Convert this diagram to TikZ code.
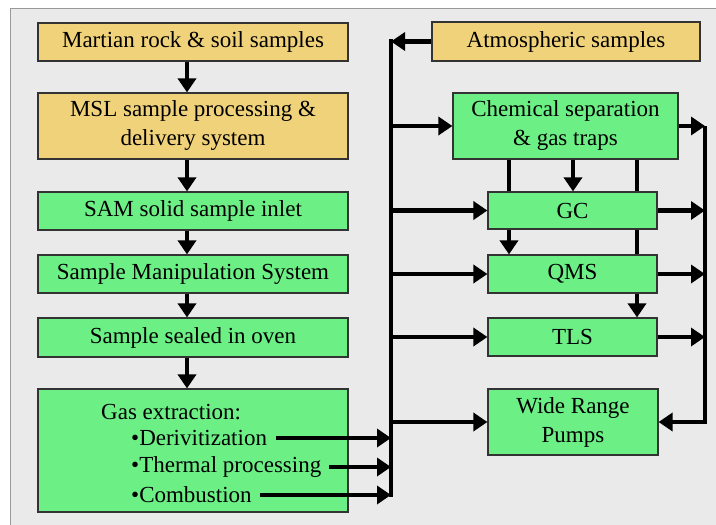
\documentclass[tikz,border=0pt]{standalone}
\usepackage{fontspec}
\setmainfont{Liberation Serif}
\usetikzlibrary{arrows.meta}
\definecolor{sampletan}{HTML}{F0D27A}
\definecolor{samgreen}{HTML}{6CF086}
\definecolor{panelgray}{HTML}{EAEAEA}
\definecolor{boxline}{HTML}{333333}
\tikzset{
  box/.style={draw=boxline, line width=1.2pt, inner sep=0pt, align=center,
    font=\fontsize{23}{29}\selectfont},
  tanbox/.style={box, fill=sampletan},
  greenbox/.style={box, fill=samgreen},
  bullet/.style={anchor=west, inner sep=0pt, font=\fontsize{23}{29}\selectfont},
  flow/.style={line width=4.5pt, -{Triangle[length=14pt,width=18pt]}},
  bus/.style={line width=4.5pt, line cap=rect},
}
\begin{document}
\begin{tikzpicture}[x=1pt, y=-1pt]
    \useasboundingbox (0,0) rectangle (716,525);
    % grey panel
    \draw [draw=gray!80, fill=panelgray, line width=1pt] (10.5,8.5) rectangle (740,545);

    % coordinates to be reused
    \coordinate (lcol) at (187,0);
    \coordinate (lbus) at (391,0);
    \coordinate (rbus) at (705,0);
    \coordinate (c1) at (509,0);
    \coordinate (c2) at (573,0);
    \coordinate (c3) at (637,0);

    % left column
    \node [tanbox, minimum width=310pt, minimum height=38pt] (rock) at (193,42) {Martian rock \& soil samples};
    \node [tanbox, minimum width=310pt, minimum height=66pt] (msl) at (193,126) {MSL sample processing \&\\delivery system};
    \node [greenbox, minimum width=310pt, minimum height=38pt] (inlet) at (193,211) {SAM solid sample inlet};
    \node [greenbox, minimum width=310pt, minimum height=38pt] (sms) at (193,274) {Sample Manipulation System};
    \node [greenbox, minimum width=310pt, minimum height=39pt] (oven) at (193,337.5) {Sample sealed in oven};
    \node [greenbox, minimum width=310pt, minimum height=123pt] (gas) at (193,450.5) {};
    \node [bullet] (gaslabel) at (101,412) {Gas extraction:};
    \node [bullet] (deriv) at (131,438) {\textbullet Derivitization};
    \node [bullet] (thermal) at (131,467) {\textbullet Thermal processing};
    \node [bullet] (combust) at (131,495) {\textbullet Combustion};

    % right column
    \node [tanbox, minimum width=268pt, minimum height=39pt] (atmo) at (566,41.5) {Atmospheric samples};
    \node [greenbox, minimum width=225pt, minimum height=66pt] (chem) at (565.5,126) {Chemical separation\\\& gas traps};
    \node [greenbox, minimum width=169pt, minimum height=37pt] (gc) at (572.5,210.5) {GC};
    \node [greenbox, minimum width=169pt, minimum height=38pt] (qms) at (572.5,274) {QMS};
    \node [greenbox, minimum width=169pt, minimum height=38pt] (tls) at (572.5,337) {TLS};
    \node [greenbox, minimum width=170pt, minimum height=66pt] (pumps) at (573,422) {Wide Range\\Pumps};

    % sample path
    \draw [flow] (rock.south -| lcol) -- (msl.north -| lcol);
    \draw [flow] (msl.south -| lcol) -- (inlet.north -| lcol);
    \draw [flow] (inlet.south -| lcol) -- (sms.north -| lcol);
    \draw [flow] (sms.south -| lcol) -- (oven.north -| lcol);
    \draw [flow] (oven.south -| lcol) -- (gas.north -| lcol);

    % gas manifold
    \draw [bus] (atmo.west -| lbus) -- (combust.east -| lbus);
    \draw [flow] (atmo.west) -- (atmo.west -| lbus);
    \draw [flow] ([xshift=9pt]deriv.east) -- (deriv.east -| lbus);
    \draw [flow] ([xshift=8pt]thermal.east) -- (thermal.east -| lbus);
    \draw [flow] ([xshift=8pt]combust.east) -- (combust.east -| lbus);
    \foreach \n in {chem,gc,qms,tls,pumps}
      \draw [flow] (\n.west -| lbus) -- (\n.west);

    % separation to instruments
    \draw [line width=4.5pt] (chem.south -| c1) -- (gc.north -| c1);
    \draw [flow] (gc.south -| c1) -- (qms.north -| c1);
    \draw [flow] (chem.south -| c2) -- (gc.north -| c2);
    \draw [line width=4.5pt] (chem.south -| c3) -- (gc.north -| c3);
    \draw [line width=4.5pt] (gc.south -| c3) -- (qms.north -| c3);
    \draw [flow] (qms.south -| c3) -- (tls.north -| c3);

    % exhaust to pumps
    \foreach \n in {chem,gc,qms,tls}
      \draw [flow] (\n.east) -- (\n.east -| rbus);
    \draw [flow, line join=miter] (chem.east -| rbus) -- (pumps.east -| rbus) -- (pumps.east);
\end{tikzpicture}
\end{document}
